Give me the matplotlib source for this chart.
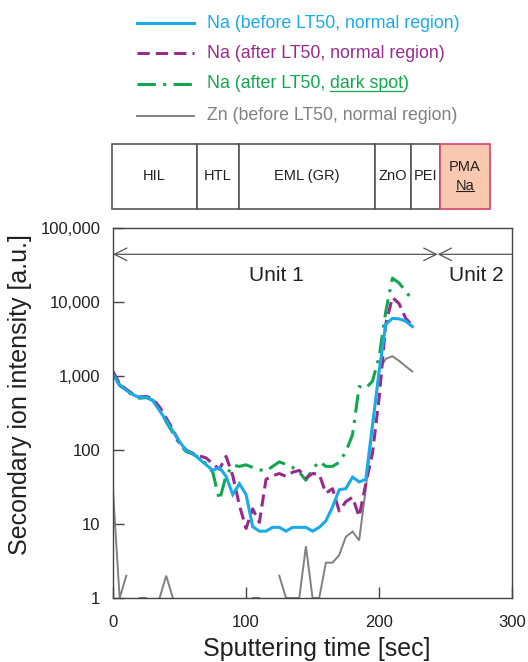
import numpy as np
import matplotlib.pyplot as plt
from matplotlib.lines import Line2D
from matplotlib.patches import Rectangle
from matplotlib.ticker import FixedLocator, FuncFormatter

plt.rcParams['font.family'] = ['Liberation Sans', 'DejaVu Sans']

# sputtering time [sec], one point every 5 s
time = np.arange(0, 230, 5)

na_before = [1050, 740, 640, 560, 510, 520, 460, 340, 250, 180,
             130, 98, 90, 75, 63, 53, 58, 44, 25, 35,
             25, 9.2, 8, 8, 9, 9, 8, 9, 9, 9,
             8, 9, 11, 17, 29, 30, 43, 37, 40, 215,
             1150, 5000, 6000, 5900, 5500, 4650]
na_after = [1150, 780, 660, 570, 520, 530, 490, 380, 270, 190,
            125, 100, 90, 83, 78, 65, 55, 82, 45, 18,
            8.7, 16, 10.5, 40, 45, 48, 44, 50, 53, 42,
            48, 47, 26, 30, 15, 20, 23, 12.6, 35, 90,
            500, 5000, 11500, 9500, 6000, 4800]
na_spot = [1100, 760, 640, 540, 500, 510, 470, 360, 240, 170,
           120, 95, 88, 78, 65, 50, 21, 45, 62, 60,
           63, 58, 54, 52, 60, 69, 64, 58, 50, 39,
           55, 70, 60, 60, 68, 95, 160, 720, 680, 850,
           1800, 7400, 21000, 18000, 14000, 10500]
# zero counts are not drawn on the log axis
zn_before = [28, 1, 2, 0, 1, 1, 0, 1, 2, 1,
             0, 0, 0, 0, 0, 0, 0, 0, 0, 0,
             0, 1, 1, 0, 0, 2, 1, 1, 1, 5,
             1, 1, 3, 3, 3.8, 6.7, 7.9, 6, 30, 200,
             1200, 1700, 1850, 1600, 1350, 1150]

layer_names = ['HIL', 'HTL', 'EML (GR)', 'ZnO', 'PEI', 'PMA']
layer_edges = [0, 0.225, 0.336, 0.696, 0.791, 0.868, 1.0]
unit_split = 244

c_blue = '#1AABE6'
c_purple = '#982A8E'
c_green = '#13A650'
c_gray = '#808080'
c_text = '#231F20'

series = [
    ('Na (before LT50, normal region)', na_before, c_blue, '-', None, 2.2),
    ('Na (after LT50, normal region)', na_after, c_purple, '--', (4, 2), 2.2),
    ('Na (after LT50, dark spot)', na_spot, c_green, '-.', (6, 2.4, 1, 2.4), 2.2),
    ('Zn (before LT50, normal region)', zn_before, c_gray, '-', None, 1.4),
]

fig = plt.figure(figsize=(5.28, 6.62), dpi=100)
ax = fig.add_axes([0.214, 0.0967, 0.756, 0.559])

# draw order: Zn underneath, then dark spot, after, before
for idx in [3, 2, 1, 0]:
    label, vals, col, ls, dash, lw = series[idx]
    y = np.ma.masked_less_equal(np.array(vals, dtype=float), 0)
    line, = ax.plot(time, y, color=col, lw=lw, ls=ls, solid_joinstyle='miter')
    if dash is not None:
        line.set_dashes(dash)

ax.set_yscale('log')
ax.set_xlim(0, 300)
ax.set_ylim(1, 100000)
ax.xaxis.set_major_locator(FixedLocator([0, 100, 200, 300]))
ax.yaxis.set_major_locator(FixedLocator([1, 10, 100, 1000, 10000, 100000]))
ax.yaxis.set_minor_locator(FixedLocator([]))
ax.yaxis.set_major_formatter(FuncFormatter(lambda v, p: '{:,.0f}'.format(v)))
ax.tick_params(direction='in', length=8, width=1, color='#444',
               labelsize=12, labelcolor=c_text)
ax.tick_params(axis='x', pad=12)
ax.tick_params(axis='y', pad=9)
for s in ax.spines.values():
    s.set_color('#444')
    s.set_linewidth(1)
ax.set_xlabel('Sputtering time [sec]', fontsize=18, color=c_text)
ax.set_ylabel('Secondary ion intensity [a.u.]', fontsize=18, color=c_text)
ax.xaxis.set_label_coords(0.511, -0.105)
ax.yaxis.set_label_coords(-0.2025, 0.549)

# unit arrows across the top of the plot
arrow_y = 44000
ax.annotate('', xy=(unit_split, arrow_y), xytext=(0, arrow_y),
            arrowprops=dict(arrowstyle='<->,head_length=0.9,head_width=0.45',
                            color='#555', lw=0.9, shrinkA=0, shrinkB=0))
ax.annotate('', xy=(300, arrow_y), xytext=(unit_split, arrow_y),
            arrowprops=dict(arrowstyle='<-,head_length=0.9,head_width=0.45',
                            color='#555', lw=0.9, shrinkA=0, shrinkB=0))
ax.text(123, 23000, 'Unit 1', fontsize=15, color=c_text, ha='center', va='center')
ax.text(273, 23000, 'Unit 2', fontsize=15, color=c_text, ha='center', va='center')

# layer stack above the plot
lax = fig.add_axes([0.2121, 0.6843, 0.716, 0.0982])
lax.set_xlim(0, 1)
lax.set_ylim(0, 1)
lax.axis('off')
for i, name in enumerate(layer_names):
    x0, x1 = layer_edges[i], layer_edges[i + 1]
    if name == 'PMA':
        lax.add_patch(Rectangle((x0, 0), x1 - x0, 1, facecolor='#F9C8B0',
                                edgecolor='#D8436B', lw=1.2, clip_on=False))
        lax.text((x0 + x1) / 2, 0.64, 'PMA', fontsize=10.5, color=c_text,
                 ha='center', va='center')
        t_na = lax.text((x0 + x1) / 2, 0.36, 'Na', fontsize=10.5, color=c_text,
                        ha='center', va='center')
    else:
        lax.add_patch(Rectangle((x0, 0), x1 - x0, 1, facecolor='white',
                                edgecolor='#555', lw=1.2, clip_on=False))
        lax.text((x0 + x1) / 2, 0.5, name, fontsize=10.5, color=c_text,
                 ha='center', va='center')

# legend drawn by hand so one word can be underlined
renderer = fig.canvas.get_renderer()
W, H = fig.get_size_inches() * fig.dpi
rows = [23, 53, 84, 116]
fs_leg = 12.8
for (label, vals, col, ls, dash, lw), ry in zip(series, rows):
    yf = 1 - ry / H
    ln = Line2D([137 / W, 194 / W], [yf, yf], transform=fig.transFigure,
                color=col, lw=lw, ls=ls)
    if dash is not None:
        ln.set_dashes(dash)
    fig.add_artist(ln)
    if 'dark spot' in label:
        t1 = fig.text(207 / W, yf, 'Na (after LT50,', color=col, fontsize=fs_leg, va='center')
        bb = t1.get_window_extent(renderer)
        t2 = fig.text((bb.x1 + 4.5) / W, yf, 'dark spot', color=col, fontsize=fs_leg, va='center')
        bb2 = t2.get_window_extent(renderer)
        fig.text(bb2.x1 / W, yf, ')', color=col, fontsize=fs_leg, va='center')
        uy = (bb2.y0 + 2) / H
        fig.add_artist(Line2D([bb2.x0 / W, bb2.x1 / W], [uy, uy],
                              transform=fig.transFigure, color=col, lw=0.9))
    else:
        fig.text(207 / W, yf, label, color=col, fontsize=fs_leg, va='center')

# underline under Na in the PMA cell
bb = t_na.get_window_extent(renderer)
uy = (bb.y0 + 1.5) / H
fig.add_artist(Line2D([bb.x0 / W, bb.x1 / W], [uy, uy],
                      transform=fig.transFigure, color=c_text, lw=0.8))

fig.savefig('out.png', dpi=100)
